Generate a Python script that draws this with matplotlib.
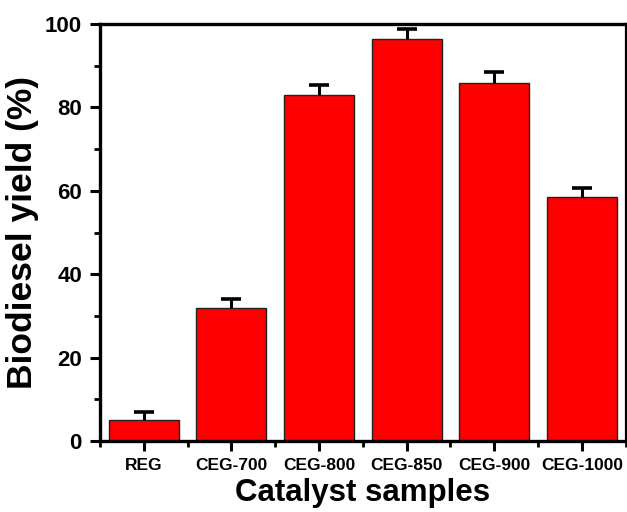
import matplotlib
matplotlib.use("Agg")
import matplotlib.pyplot as plt
from matplotlib.ticker import MultipleLocator
import numpy as np

categories = ["REG", "CEG-700", "CEG-800", "CEG-850", "CEG-900", "CEG-1000"]
yields = [5.0, 32.0, 83.0, 96.3, 85.8, 58.5]
errors = [2.0, 2.1, 2.3, 2.4, 2.6, 2.1]

plt.rcParams['font.family'] = ['Liberation Sans', 'DejaVu Sans']
plt.rcParams['font.weight'] = 'bold'

fig = plt.figure(figsize=(6.27, 5.12), dpi=100)
ax = fig.add_axes([0.1595, 0.1387, 0.8385, 0.8143])

x = np.arange(len(categories))
y = np.array(yields)
e = np.array(errors)
ax.bar(x, y, width=0.8, color='#ff0000', edgecolor='#222222', linewidth=1.0, zorder=2)
ax.errorbar(x, y, yerr=[np.zeros(len(e)), e], fmt='none',
            ecolor='black', elinewidth=2.2, capsize=0, zorder=3)
ax.plot(x, y + e, linestyle='none', marker='_', markersize=14,
        markeredgewidth=2.6, color='black', zorder=4)

ax.set_xlim(-0.5, len(categories) - 0.5)
ax.set_ylim(0, 100)
ax.set_xticks(x)
ax.set_xticklabels(categories, fontsize=12.5, fontweight='bold')
ax.xaxis.set_minor_locator(MultipleLocator(1, offset=0.5))
ax.yaxis.set_major_locator(MultipleLocator(20))
ax.yaxis.set_minor_locator(MultipleLocator(10))
for lab in ax.get_yticklabels():
    lab.set_fontsize(16)
    lab.set_fontweight('bold')

ax.tick_params(axis='both', which='major', direction='out', length=7, width=2.2, pad=6)
ax.tick_params(axis='both', which='minor', direction='out', length=4, width=2.0)
ax.tick_params(axis='x', which='major', pad=5)
ax.tick_params(top=False, right=False)

for side in ['left', 'bottom', 'top']:
    ax.spines[side].set_linewidth(2.4)
ax.spines['right'].set_linewidth(1.6)

ax.set_ylabel("Biodiesel yield (%)", fontsize=25.5, fontweight='bold', labelpad=4)
ax.set_xlabel("Catalyst samples", fontsize=22.5, fontweight='bold', labelpad=4)

fig.savefig("out.png", dpi=100)
